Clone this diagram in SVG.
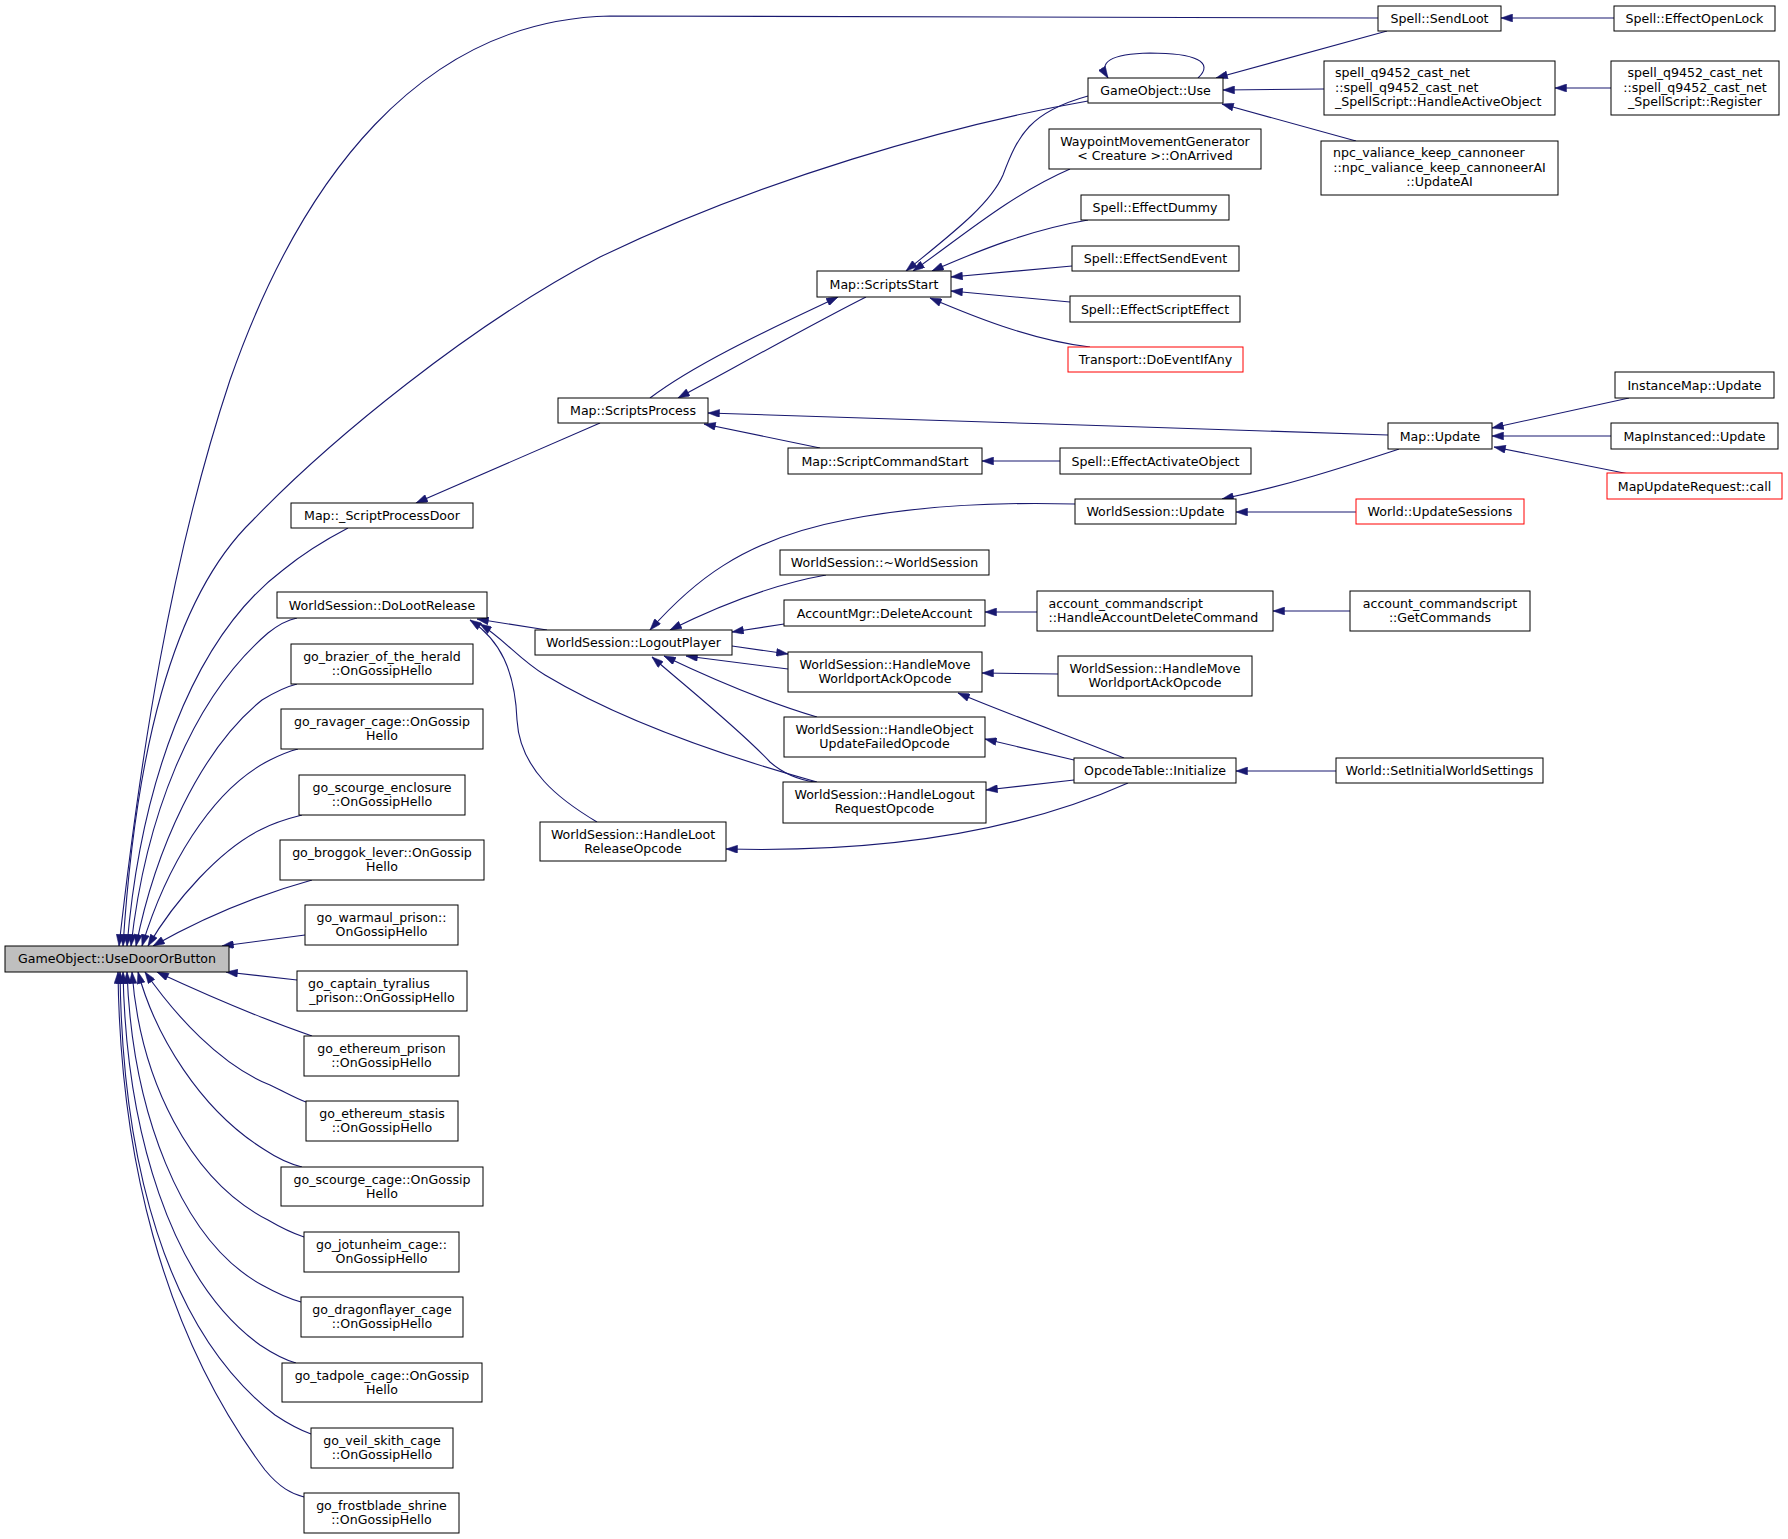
<svg xmlns="http://www.w3.org/2000/svg" width="1788" height="1539" viewBox="0 0 1788 1539">
<defs>
<style>
.node rect{fill:#ffffff;stroke:#000000;stroke-width:1}
.node.red rect{stroke:#ff0000}
.node.main rect{fill:#bfbfbf}
text{font-family:"DejaVu Sans","Liberation Sans",sans-serif;font-size:12.6px;fill:#000000}
.c{text-anchor:middle}
.l{text-anchor:start}
#edges path{fill:none;stroke:#191970;stroke-width:1.1;marker-start:url(#arr)}
</style>
<marker id="arr" markerWidth="12" markerHeight="8" refX="0" refY="4" orient="auto" markerUnits="userSpaceOnUse">
<path d="M0,4 L11.5,0 L11.5,8 z" fill="#191970" stroke="#191970" stroke-width="0.5"/>
</marker>
</defs>
<rect x="0" y="0" width="1788" height="1539" fill="#ffffff"/>
<g id="edges">
<path d="M119,946 C140,760 170,560 230,380 C300,180 420,20 610,16 L1378,18"/>
<path d="M123,946 C135,760 170,600 253,520 C330,440 470,325 600,257 C760,180 950,125 1088,101"/>
<path d="M127,946 C140,790 190,640 283,570 C305,552 325,540 348,528"/>
<path d="M131,946 C145,820 190,700 268,633 C278,625 287,620 297,618"/>
<path d="M136,946 C155,850 200,750 262,700 C275,692 285,687 297,684"/>
<path d="M142,946 C165,870 210,790 270,760 C280,755 290,751 298,749"/>
<path d="M148,946 C175,900 220,850 260,830 C275,822 290,818 302,815"/>
<path d="M153,946 C190,925 240,900 312,880"/>
<path d="M222,946 L305,935"/>
<path d="M226,972 L297,980"/>
<path d="M157,972 C200,992 260,1018 312,1036"/>
<path d="M145,972 C175,1015 220,1065 270,1085 C285,1092 295,1098 306,1102"/>
<path d="M138,972 C155,1035 200,1110 265,1150 C280,1160 290,1164 302,1167"/>
<path d="M132,972 C140,1080 190,1180 268,1220 C285,1230 295,1234 304,1237"/>
<path d="M127,972 C132,1110 180,1240 262,1285 C280,1295 290,1299 301,1302"/>
<path d="M123,972 C126,1130 170,1280 260,1345 C275,1355 285,1360 296,1363"/>
<path d="M120,972 C122,1160 165,1330 275,1415 C290,1425 300,1430 311,1434"/>
<path d="M118,972 C120,1150 160,1330 265,1470 C280,1488 292,1494 304,1497"/>
<path d="M1501,18 L1614,18"/>
<path d="M1216,78 L1387,31"/>
<path d="M1223,90 L1324,89"/>
<path d="M1222,104 L1356,141"/>
<path d="M1555,88 L1611,88"/>
<path d="M1108,78 C1098,62 1110,54 1150,53 C1195,53 1215,62 1198,78"/>
<path d="M906,271 C950,235 990,205 1003,175 C1018,135 1030,112 1088,96"/>
<path d="M913,271 C960,238 1010,195 1070,169"/>
<path d="M932,271 C980,250 1030,230 1088,220"/>
<path d="M951,277 L1072,266"/>
<path d="M951,291 L1070,302"/>
<path d="M930,298 C970,315 1030,340 1090,347"/>
<path d="M838,297 C790,320 700,360 650,398"/>
<path d="M678,398 C730,370 820,320 866,297"/>
<path d="M708,413 C900,420 1200,428 1388,435"/>
<path d="M704,424 L820,448"/>
<path d="M982,461 L1060,461"/>
<path d="M416,503 L600,423"/>
<path d="M1492,428 L1629,398"/>
<path d="M1492,436 L1611,436"/>
<path d="M1494,447 L1629,474"/>
<path d="M1222,499 C1290,485 1350,465 1399,449"/>
<path d="M1236,512 L1356,512"/>
<path d="M650,630 C690,585 740,540 845,520 C920,505 1000,502 1075,504"/>
<path d="M670,630 C720,605 770,585 826,575"/>
<path d="M732,632 L784,624"/>
<path d="M985,612 L1037,612"/>
<path d="M1273,611 L1350,611"/>
<path d="M788,654 L732,646"/>
<path d="M686,656 L788,669"/>
<path d="M664,656 C710,678 770,703 817,717"/>
<path d="M652,657 C690,690 740,730 770,762 C785,775 800,780 815,782"/>
<path d="M477,619 L547,630"/>
<path d="M470,620 C500,640 515,670 517,720 C520,770 560,800 597,822"/>
<path d="M480,624 C505,640 520,660 545,675 C620,720 720,755 817,782"/>
<path d="M982,673 L1058,674"/>
<path d="M958,693 C1010,715 1080,740 1124,758"/>
<path d="M985,739 L1074,760"/>
<path d="M986,790 L1074,780"/>
<path d="M726,849 C850,852 1000,840 1128,783"/>
<path d="M1236,771 L1336,771"/>
</g>
<g id="n1" class="node main"><rect x="5" y="946" width="224" height="26"/><text class="c" x="117" y="963">GameObject::UseDoorOrButton</text></g>
<g id="n2" class="node"><rect x="1378" y="6" width="123" height="25"/><text class="c" x="1439.5" y="23">Spell::SendLoot</text></g>
<g id="n3" class="node"><rect x="1614" y="6" width="161" height="25"/><text class="c" x="1694.5" y="23">Spell::EffectOpenLock</text></g>
<g id="n4" class="node"><rect x="1088" y="78" width="135" height="25"/><text class="c" x="1155.5" y="95">GameObject::Use</text></g>
<g id="n5" class="node"><rect x="1324" y="61" width="231" height="54"/><text class="l" x="1335" y="77">spell_q9452_cast_net</text><text class="l" x="1335" y="91.5">::spell_q9452_cast_net</text><text class="l" x="1335" y="106">_SpellScript::HandleActiveObject</text></g>
<g id="n6" class="node"><rect x="1611" y="61" width="168" height="54"/><text class="c" x="1695" y="77">spell_q9452_cast_net</text><text class="c" x="1695" y="91.5">::spell_q9452_cast_net</text><text class="c" x="1695" y="106">_SpellScript::Register</text></g>
<g id="n7" class="node"><rect x="1321" y="141" width="237" height="54"/><text class="l" x="1333" y="157">npc_valiance_keep_cannoneer</text><text class="c" x="1439.5" y="171.5">::npc_valiance_keep_cannoneerAI</text><text class="c" x="1439.5" y="186">::UpdateAI</text></g>
<g id="n8" class="node"><rect x="1049" y="129" width="212" height="40"/><text class="c" x="1155" y="145.5">WaypointMovementGenerator</text><text class="c" x="1155" y="160">&lt; Creature &gt;::OnArrived</text></g>
<g id="n9" class="node"><rect x="1081" y="195" width="148" height="25"/><text class="c" x="1155" y="212">Spell::EffectDummy</text></g>
<g id="n10" class="node"><rect x="1072" y="246" width="167" height="25"/><text class="c" x="1155.5" y="263">Spell::EffectSendEvent</text></g>
<g id="n11" class="node"><rect x="1070" y="296" width="170" height="26"/><text class="c" x="1155" y="313.5">Spell::EffectScriptEffect</text></g>
<g id="n12" class="node red"><rect x="1068" y="347" width="175" height="25"/><text class="c" x="1155.5" y="364">Transport::DoEventIfAny</text></g>
<g id="n13" class="node"><rect x="817" y="271" width="134" height="26"/><text class="c" x="884" y="288.5">Map::ScriptsStart</text></g>
<g id="n14" class="node"><rect x="558" y="398" width="150" height="25"/><text class="c" x="633" y="415">Map::ScriptsProcess</text></g>
<g id="n15" class="node"><rect x="788" y="448" width="194" height="26"/><text class="c" x="885" y="465.5">Map::ScriptCommandStart</text></g>
<g id="n16" class="node"><rect x="1060" y="448" width="191" height="26"/><text class="c" x="1155.5" y="465.5">Spell::EffectActivateObject</text></g>
<g id="n17" class="node"><rect x="1388" y="423" width="104" height="26"/><text class="c" x="1440" y="440.5">Map::Update</text></g>
<g id="n18" class="node"><rect x="1615" y="372" width="159" height="26"/><text class="c" x="1694.5" y="389.5">InstanceMap::Update</text></g>
<g id="n19" class="node"><rect x="1611" y="423" width="167" height="26"/><text class="c" x="1694.5" y="440.5">MapInstanced::Update</text></g>
<g id="n20" class="node red"><rect x="1607" y="473" width="175" height="26"/><text class="c" x="1694.5" y="490.5">MapUpdateRequest::call</text></g>
<g id="n21" class="node"><rect x="291" y="503" width="182" height="25"/><text class="c" x="382" y="520">Map::_ScriptProcessDoor</text></g>
<g id="n22" class="node"><rect x="1075" y="499" width="161" height="25"/><text class="c" x="1155.5" y="516">WorldSession::Update</text></g>
<g id="n23" class="node red"><rect x="1356" y="499" width="168" height="25"/><text class="c" x="1440" y="516">World::UpdateSessions</text></g>
<g id="n24" class="node"><rect x="277" y="592" width="210" height="26"/><text class="c" x="382" y="609.5">WorldSession::DoLootRelease</text></g>
<g id="n25" class="node"><rect x="780" y="550" width="209" height="25"/><text class="c" x="884.5" y="567">WorldSession::~WorldSession</text></g>
<g id="n26" class="node"><rect x="535" y="630" width="197" height="25"/><text class="c" x="633.5" y="647">WorldSession::LogoutPlayer</text></g>
<g id="n27" class="node"><rect x="784" y="600" width="201" height="26"/><text class="c" x="884.5" y="617.5">AccountMgr::DeleteAccount</text></g>
<g id="n28" class="node"><rect x="1037" y="591" width="236" height="40"/><text class="l" x="1048.5" y="607.5">account_commandscript</text><text class="l" x="1048.5" y="622">::HandleAccountDeleteCommand</text></g>
<g id="n29" class="node"><rect x="1350" y="591" width="180" height="40"/><text class="c" x="1440" y="607.5">account_commandscript</text><text class="c" x="1440" y="622">::GetCommands</text></g>
<g id="n30" class="node"><rect x="788" y="652" width="194" height="40"/><text class="c" x="885" y="668.5">WorldSession::HandleMove</text><text class="c" x="885" y="683">WorldportAckOpcode</text></g>
<g id="n31" class="node"><rect x="1058" y="656" width="194" height="40"/><text class="c" x="1155" y="672.5">WorldSession::HandleMove</text><text class="c" x="1155" y="687">WorldportAckOpcode</text></g>
<g id="n32" class="node"><rect x="784" y="717" width="201" height="40"/><text class="c" x="884.5" y="733.5">WorldSession::HandleObject</text><text class="c" x="884.5" y="748">UpdateFailedOpcode</text></g>
<g id="n33" class="node"><rect x="783" y="782" width="203" height="41"/><text class="c" x="884.5" y="798.5">WorldSession::HandleLogout</text><text class="c" x="884.5" y="813">RequestOpcode</text></g>
<g id="n34" class="node"><rect x="1074" y="758" width="162" height="25"/><text class="c" x="1155" y="775">OpcodeTable::Initialize</text></g>
<g id="n35" class="node"><rect x="1336" y="758" width="207" height="25"/><text class="c" x="1439.5" y="775">World::SetInitialWorldSettings</text></g>
<g id="n36" class="node"><rect x="540" y="822" width="186" height="39"/><text class="c" x="633" y="838.5">WorldSession::HandleLoot</text><text class="c" x="633" y="853">ReleaseOpcode</text></g>
<g id="n37" class="node"><rect x="291" y="644" width="182" height="40"/><text class="c" x="382" y="660.5">go_brazier_of_the_herald</text><text class="c" x="382" y="675">::OnGossipHello</text></g>
<g id="n38" class="node"><rect x="281" y="709" width="202" height="40"/><text class="c" x="382" y="725.5">go_ravager_cage::OnGossip</text><text class="c" x="382" y="740">Hello</text></g>
<g id="n39" class="node"><rect x="299" y="775" width="166" height="40"/><text class="c" x="382" y="791.5">go_scourge_enclosure</text><text class="c" x="382" y="806">::OnGossipHello</text></g>
<g id="n40" class="node"><rect x="280" y="840" width="204" height="40"/><text class="c" x="382" y="856.5">go_broggok_lever::OnGossip</text><text class="c" x="382" y="871">Hello</text></g>
<g id="n41" class="node"><rect x="305" y="905" width="153" height="40"/><text class="c" x="381.5" y="921.5">go_warmaul_prison::</text><text class="c" x="381.5" y="936">OnGossipHello</text></g>
<g id="n42" class="node"><rect x="297" y="971" width="170" height="40"/><text class="l" x="308" y="987.5">go_captain_tyralius</text><text class="c" x="382" y="1002">_prison::OnGossipHello</text></g>
<g id="n43" class="node"><rect x="304" y="1036" width="155" height="40"/><text class="c" x="381.5" y="1052.5">go_ethereum_prison</text><text class="c" x="381.5" y="1067">::OnGossipHello</text></g>
<g id="n44" class="node"><rect x="306" y="1101" width="152" height="40"/><text class="c" x="382" y="1117.5">go_ethereum_stasis</text><text class="c" x="382" y="1132">::OnGossipHello</text></g>
<g id="n45" class="node"><rect x="281" y="1167" width="202" height="39"/><text class="c" x="382" y="1183.5">go_scourge_cage::OnGossip</text><text class="c" x="382" y="1198">Hello</text></g>
<g id="n46" class="node"><rect x="304" y="1232" width="155" height="40"/><text class="c" x="381.5" y="1248.5">go_jotunheim_cage::</text><text class="c" x="381.5" y="1263">OnGossipHello</text></g>
<g id="n47" class="node"><rect x="301" y="1297" width="162" height="40"/><text class="c" x="382" y="1313.5">go_dragonflayer_cage</text><text class="c" x="382" y="1328">::OnGossipHello</text></g>
<g id="n48" class="node"><rect x="282" y="1363" width="200" height="39"/><text class="c" x="382" y="1379.5">go_tadpole_cage::OnGossip</text><text class="c" x="382" y="1394">Hello</text></g>
<g id="n49" class="node"><rect x="311" y="1428" width="142" height="40"/><text class="c" x="382" y="1444.5">go_veil_skith_cage</text><text class="c" x="382" y="1459">::OnGossipHello</text></g>
<g id="n50" class="node"><rect x="304" y="1493" width="155" height="40"/><text class="c" x="381.5" y="1509.5">go_frostblade_shrine</text><text class="c" x="381.5" y="1524">::OnGossipHello</text></g>
</svg>
